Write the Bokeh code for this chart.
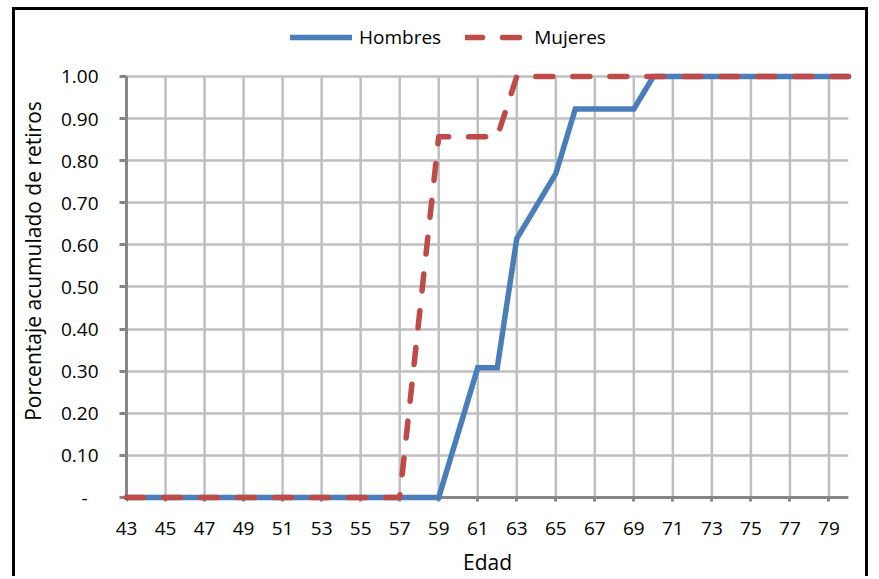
from bokeh.plotting import figure
from bokeh.models import (FixedTicker, NumeralTickFormatter, Legend, LegendItem,
                          ColumnDataSource, Range1d, LinearAxis)
from bokeh.embed import file_html
from bokeh.resources import INLINE

# ---- data -------------------------------------------------------------
edad = [43, 44, 45, 46, 47, 48, 49, 50, 51, 52, 53, 54, 55, 56, 57, 58, 59,
        60, 61, 62, 63, 64, 65, 66, 67, 68, 69, 70, 71, 72, 73, 74, 75, 76,
        77, 78, 79, 80]
hombres = [0, 0, 0, 0, 0, 0, 0, 0, 0, 0, 0, 0, 0, 0, 0, 0, 0,
           0.154, 0.308, 0.308, 0.615, 0.692, 0.769, 0.923, 0.923, 0.923, 0.923,
           1, 1, 1, 1, 1, 1, 1, 1, 1, 1, 1]
mujeres = [0, 0, 0, 0, 0, 0, 0, 0, 0, 0, 0, 0, 0, 0, 0,
           0.429, 0.857, 0.857, 0.857, 0.857,
           1, 1, 1, 1, 1, 1, 1, 1, 1, 1, 1, 1, 1, 1, 1, 1, 1, 1]
x_ticks = [43, 45, 47, 49, 51, 53, 55, 57, 59, 61, 63, 65, 67, 69, 71, 73, 75, 77, 79]
y_ticks = [0.0, 0.1, 0.2, 0.3, 0.4, 0.5, 0.6, 0.7, 0.8, 0.9, 1.0]
series_names = ["Hombres", "Mujeres"]
x_title = "Edad"
y_title = "Porcentaje acumulado de retiros"

FONT = "Open Sans"
FS = "19px"
FS_TITLE = "21px"

src = ColumnDataSource(dict(edad=edad, hombres=hombres, mujeres=mujeres))
y_min, y_max = y_ticks[0], y_ticks[-1]
span = y_max - y_min
grid_src = ColumnDataSource(dict(x=x_ticks, y0=[y_min] * len(x_ticks),
                                 y1=[y_max] * len(x_ticks)))

# frame extends above 1.0 so that the legend sits inside it (not clipped),
# and a little below 0 so the lines at 0 are drawn at full width
p = figure(width=856, height=569, output_backend="svg", toolbar_location=None,
           x_range=Range1d(edad[0], edad[-1]),
           y_range=Range1d(y_min - 0.0095 * span, y_max + 0.133 * span),
           min_border_left=108, min_border_right=23, min_border_top=10,
           min_border_bottom=78)
p.margin = (7, 0, 0, 12)
p.styles = {"border-left": "3px solid black", "border-top": "3px solid black",
            "border-right": "3px solid black"}
p.outline_line_color = None
p.background_fill_color = "white"
p.border_fill_color = "white"

# grid
p.xgrid.visible = False
p.ygrid.ticker = FixedTicker(ticks=y_ticks)
p.ygrid.grid_line_color = "#BFBFBF"
p.ygrid.grid_line_width = 2.5
p.segment(x0="x", x1="x", y0="y0", y1="y1", source=grid_src,
          line_color="#BFBFBF", line_width=2.5, level="underlay")


def style_axis(ax):
    ax.axis_line_color = "#868686"
    ax.axis_line_width = 3
    ax.major_tick_line_color = "#868686"
    ax.major_tick_line_width = 3
    ax.major_tick_out = 7
    ax.major_tick_in = 0
    ax.minor_tick_line_color = None
    ax.major_label_text_font = FONT
    ax.major_label_text_font_size = FS
    ax.major_label_text_color = "black"
    ax.axis_label_text_font = FONT
    ax.axis_label_text_font_size = FS_TITLE
    ax.axis_label_text_font_style = "normal"
    ax.axis_label_text_color = "black"


style_axis(p.xaxis[0])
style_axis(p.yaxis[0])

# x axis line + ticks drawn at y = 0
p.xaxis.ticker = FixedTicker(ticks=x_ticks)
p.xaxis.fixed_location = y_min
p.xaxis.major_label_text_color = None

# x tick labels + title in the bottom panel
x_lab = LinearAxis(ticker=FixedTicker(ticks=x_ticks), axis_label=x_title)
style_axis(x_lab)
x_lab.axis_line_color = None
x_lab.major_tick_line_color = None
x_lab.major_tick_out = 0
x_lab.major_label_standoff = 20
x_lab.axis_label_standoff = 10
p.add_layout(x_lab, "below")

p.yaxis.ticker = FixedTicker(ticks=y_ticks)
p.yaxis.bounds = (y_min, y_max)
p.yaxis.formatter = NumeralTickFormatter(format="0.00")
p.yaxis.major_label_overrides = {0: "-\u2007"}
p.yaxis.major_label_standoff = 21
p.yaxis.axis_label = y_title
p.yaxis.axis_label_standoff = 11

# lines
r_h = p.line("edad", "hombres", source=src, line_color="#4A7EBB", line_width=5.5,
             line_join="miter", line_cap="round", level="overlay")
r_m = p.line("edad", "mujeres", source=src, line_color="#BE4B48", line_width=5.5,
             line_dash="17 20", line_cap="round", line_join="round", level="overlay")

legend = Legend(items=[LegendItem(label=series_names[0], renderers=[r_h]),
                       LegendItem(label=series_names[1], renderers=[r_m])],
                orientation="horizontal", location=(160, 447),
                glyph_width=62, glyph_height=20, label_height=20,
                label_standoff=7, spacing=24, padding=4, margin=0,
                label_text_font=FONT, label_text_font_size=FS,
                label_text_color="black",
                border_line_alpha=0, background_fill_alpha=0)
p.add_layout(legend)

open("out.html", "w").write(file_html(p, INLINE))
